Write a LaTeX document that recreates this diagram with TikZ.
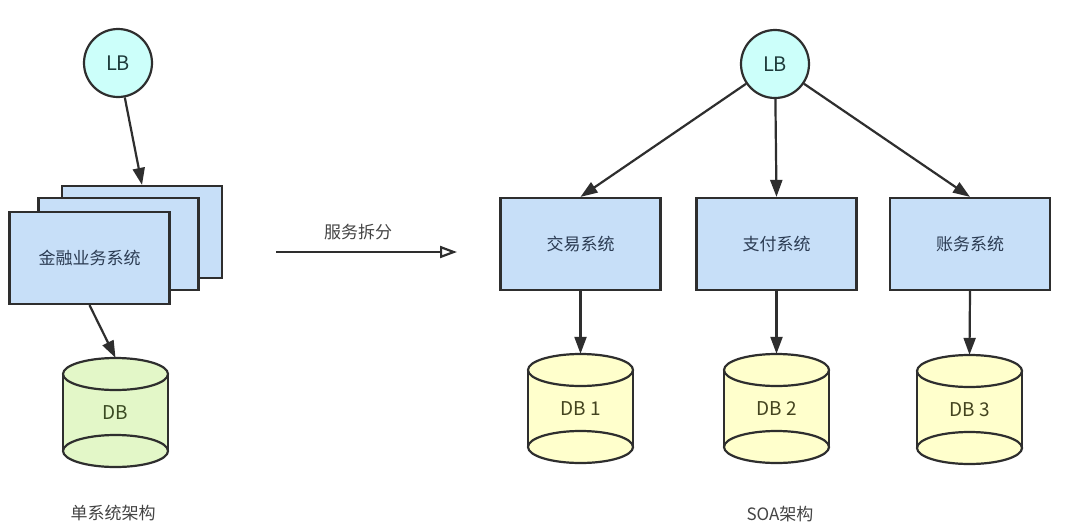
\documentclass[tikz,border=0pt]{standalone}
\usepackage{fontspec}
\setmainfont{Noto Sans CJK SC}
\usetikzlibrary{arrows.meta}
\definecolor{strokec}{HTML}{2E2E2E}
\definecolor{lbfill}{HTML}{CCFFFA}
\definecolor{boxfill}{HTML}{C7DFF8}
\definecolor{greenfill}{HTML}{E3F7C8}
\definecolor{yellowfill}{HTML}{FFFFCC}
\definecolor{boxtext}{HTML}{2B3B52}
\definecolor{lbtext}{HTML}{1E3B3B}
\definecolor{gtext}{HTML}{3A4A22}
\definecolor{ytext}{HTML}{44441F}
\definecolor{captext}{HTML}{444444}
\tikzset{
  lbnode/.style={circle,draw=strokec,line width=2.2pt,fill=lbfill,minimum size=68pt,inner sep=0pt,
    font=\fontsize{20}{22}\selectfont,text=lbtext},
  sysbox/.style={rectangle,draw=strokec,line width=2.2pt,fill=boxfill,minimum width=160pt,minimum height=92pt,
    inner sep=0pt,font=\fontsize{17}{19}\selectfont,text=boxtext},
  dbnode/.style={rectangle,minimum width=105pt,minimum height=109pt,inner sep=0pt,
    font=\fontsize{19}{21}\selectfont},
  conn/.style={draw=strokec,line width=2.2pt,-{Triangle[length=17pt,width=12pt]}},
  caption/.style={font=\fontsize{17}{19}\selectfont,text=captext},
}
% cylinder: #1 center x, #2 top y, #3 bottom y, #4 fill
\newcommand{\cylshape}[4]{%
  \fill[#4] (#1-52.5,#2+16) -- (#1-52.5,#3-16) arc[start angle=180,end angle=360,x radius=52.5,y radius=-16]
     -- (#1+52.5,#2+16) arc[start angle=0,end angle=180,x radius=52.5,y radius=-16] -- cycle;
  \draw[strokec,line width=2.2pt] (#1-52.5,#2+16) -- (#1-52.5,#3-16);
  \draw[strokec,line width=2.2pt] (#1+52.5,#2+16) -- (#1+52.5,#3-16);
  \draw[strokec,line width=2.2pt] (#1,#2+16) ellipse[x radius=52.5,y radius=16];
  \draw[strokec,line width=2.2pt] (#1,#3-16) ellipse[x radius=52.5,y radius=16];
}
\begin{document}
\begin{tikzpicture}[x=1pt,y=-1pt]
\useasboundingbox[fill=white] (0,0) rectangle (1066,523);

% ---- left: single system ----
\node[lbnode] (lbL) at (118,63) {LB};
\node[sysbox] (back) at (142,232) {};
\node[sysbox] (mid) at (118.5,244) {};
\node[sysbox] (front) at (89.5,258) {金融业务系统};
\cylshape{115.5}{358}{467}{greenfill}
\node[dbnode,text=gtext] (dbL) at (115.5,412.5) {DB};
\draw[conn] (lbL) -- (back.north);
\draw[conn] (front.south) -- (dbL.north);
\node[caption] (capL) at (113,513) {单系统架构};

% ---- middle arrow ----
\coordinate (splitA) at (276,252);
\coordinate (splitB) at (457,252);
\draw[draw=strokec,line width=2.2pt,-{Triangle[open,length=17pt,width=12pt]}] (splitA) -- (splitB);
\node[caption,text=captext] (splitlabel) at (358,232) {服务拆分};

% ---- right: SOA ----
\node[lbnode] (lbR) at (775,64) {LB};
\node[sysbox] (b1) at (580.5,244) {交易系统};
\node[sysbox] (b2) at (776.5,244) {支付系统};
\node[sysbox] (b3) at (970,244) {账务系统};
\cylshape{580.5}{354}{463}{yellowfill}
\cylshape{776.5}{354}{463}{yellowfill}
\cylshape{969.5}{355}{464}{yellowfill}
\node[dbnode,text=ytext] (db1) at (580.5,408.5) {DB 1};
\node[dbnode,text=ytext] (db2) at (776.5,408.5) {DB 2};
\node[dbnode,text=ytext] (db3) at (969.5,409.5) {DB 3};
\draw[conn] (lbR) -- (b1.north);
\draw[conn] (lbR) -- (b2.north);
\draw[conn] (lbR) -- (b3.north);
\draw[conn] (b1.south) -- (db1.north);
\draw[conn] (b2.south) -- (db2.north);
\draw[conn] (b3.south) -- (db3.north);
\node[caption] (capR) at (780,514) {SOA架构};
\end{tikzpicture}
\end{document}
